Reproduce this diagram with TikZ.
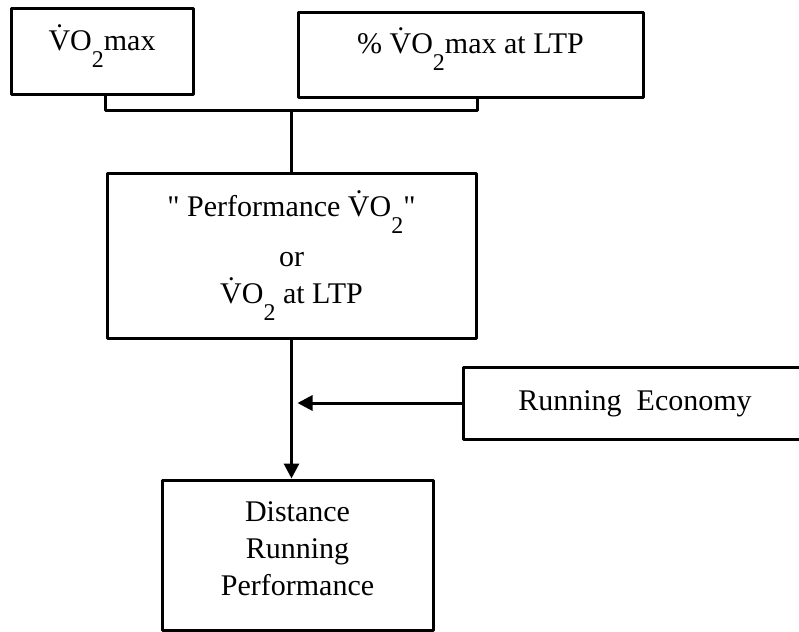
\documentclass[tikz,border=0pt]{standalone}
\usepackage{fontspec}
\setmainfont{Liberation Serif}
\usetikzlibrary{arrows.meta}
\newcommand{\vo}{\.VO\raisebox{-8.5pt}{\fontsize{12}{12}\selectfont 2}}

\begin{document}
\begin{tikzpicture}[x=0.5pt, y=-0.5pt, >={Triangle[length=7.5pt,width=7.5pt]},
	line width=1.5pt, line join=round,
	box/.style={draw, inner sep=0pt, align=center, font=\fontsize{15}{18.5}\selectfont}]
	\clip (0,0) rectangle (799,632);
	\node[box, minimum width=91pt, text height=21pt, text depth=22pt] (vo2max) at (102,51) {\vo max};
	\node[box, minimum width=172.5pt, text height=20.5pt, text depth=22pt] (pctmax) at (470.5,54.5) {\% \vo max at LTP};
	\node[box, minimum width=184.5pt, minimum height=82.5pt] (perf) at (291.5,255.5)
		{\textquotedbl{} Performance \vo\textquotedbl\\[6.5pt] or\\ \vo{} at LTP};
	\node[box, minimum width=172pt, text height=21.5pt, text depth=14.5pt] (econ) at (635,403) {Running~~Economy};
	\node[box, minimum width=135.5pt, minimum height=75pt] (dist) at (297.5,555)
		{Distance\\ Running\\ Performance\rule[-6pt]{0pt}{6pt}};
	% bracket joining the two top boxes
	\path (perf.north) ++(0,-61) coordinate (jn);
	\draw (vo2max.south -| perf.west) |- (jn) -| (pctmax.south -| perf.east);
	\draw (jn) -- (perf.north);
	\draw[->] (perf.south) -- (perf.south |- dist.north);
	\draw[->, shorten >=3pt] (econ.west) -- (econ.west -| perf.south);
\end{tikzpicture}
\end{document}
